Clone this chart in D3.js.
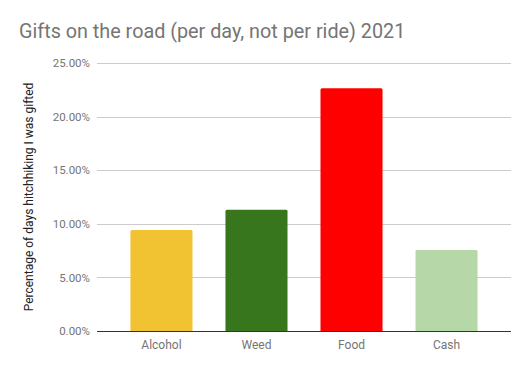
<!DOCTYPE html>
<html>
<head>
<meta charset="utf-8">
<script src="https://cdn.jsdelivr.net/npm/d3@7"></script>
<style>
  body { margin: 0; background: #fff; }
  text { font-family: Roboto, sans-serif; }
</style>
</head>
<body>
<div class="container"></div>
<script>
const categories = ['Alcohol', 'Weed', 'Food', 'Cash'];
const values = [9.43, 11.32, 22.64, 7.55];
const colors = ['#f1c232', '#38761d', '#ff0000', '#b6d7a8'];
const yTicks = [0, 5, 10, 15, 20, 25];

const w = 530;
const h = 371;
const margin = { top: 63, bottom: 40, left: 97, right: 19 };
const width = w - margin.left - margin.right;
const height = h - margin.top - margin.bottom;

const svg = d3.select('.container').append('svg')
    .attr('width', w)
    .attr('height', h);

svg.append('text')
    .attr('x', 19)
    .attr('y', 38)
    .attr('font-size', 19.8)
    .attr('fill', '#757575')
    .text('Gifts on the road (per day, not per ride) 2021');

const chart = svg.append('g')
    .attr('transform', `translate(${margin.left}, ${margin.top})`);

const x = d3.scaleBand()
    .domain(categories)
    .range([0, width])
    .paddingInner(0.347)
    .paddingOuter(0.352);

const y = d3.scaleLinear()
    .domain([0, 25])
    .range([height, 0]);

// gridlines
chart.selectAll('.grid')
    .data(yTicks.filter(d => d > 0))
    .enter()
    .append('line')
      .attr('x1', 0)
      .attr('x2', width)
      .attr('y1', d => Math.round(y(d)) + 0.5)
      .attr('y2', d => Math.round(y(d)) + 0.5)
      .attr('stroke', '#cccccc');

// y tick labels
const yAxis = d3.axisLeft(y)
    .tickValues(yTicks)
    .tickSize(0)
    .tickPadding(7)
    .tickFormat(d => d.toFixed(2) + '%');

chart.append('g')
    .call(yAxis)
    .call(g => g.select('.domain').remove())
    .call(g => g.selectAll('text')
        .attr('font-family', 'Roboto, sans-serif')
        .attr('font-size', 11.5)
        .attr('fill', '#757575'));

// bars
chart.selectAll('.bar')
    .data(values)
    .enter()
    .append('path')
      .attr('d', (d, i) => {
        const x0 = x(categories[i]);
        const bw = x.bandwidth();
        const y0 = y(d);
        const r = 1.5;
        return `M${x0},${height}V${y0 + r}Q${x0},${y0} ${x0 + r},${y0}H${x0 + bw - r}Q${x0 + bw},${y0} ${x0 + bw},${y0 + r}V${height}Z`;
      })
      .attr('fill', (d, i) => colors[i]);

// baseline
chart.append('line')
    .attr('x1', 0)
    .attr('x2', width)
    .attr('y1', Math.round(y(0)) + 0.5)
    .attr('y2', Math.round(y(0)) + 0.5)
    .attr('stroke', '#333333');

// x labels
const xAxis = d3.axisBottom(x)
    .tickSize(0)
    .tickPadding(9);

chart.append('g')
    .attr('transform', `translate(0, ${height})`)
    .call(xAxis)
    .call(g => g.select('.domain').remove())
    .call(g => g.selectAll('text')
        .attr('font-family', 'Roboto, sans-serif')
        .attr('font-size', 12)
        .attr('fill', '#757575'));

// y axis title
svg.append('text')
    .attr('transform', `translate(33, ${margin.top + height / 2}) rotate(-90)`)
    .attr('text-anchor', 'middle')
    .attr('font-size', 12)
    .attr('fill', '#222222')
    .text('Percentage of days hitchhiking I was gifted');
</script>
</body>
</html>
